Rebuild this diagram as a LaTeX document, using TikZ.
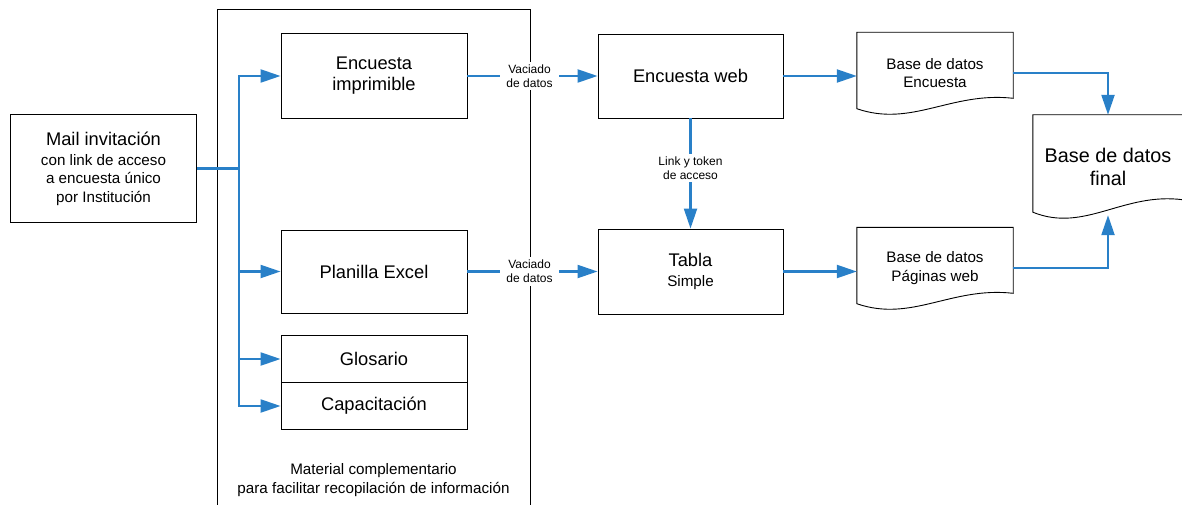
\documentclass[tikz,border=0pt]{standalone}
\usepackage{fontspec}
\setmainfont{Liberation Sans}
\usepackage{tikz}
\usetikzlibrary{arrows.meta}
\usetikzlibrary{calc}
\definecolor{flowblue}{RGB}{41,128,200}
\newcommand\fbig{\fontsize{18.3}{21}\selectfont}
\newcommand\fmed{\fontsize{15.2}{18.5}\selectfont}
\newcommand\fhuge{\fontsize{19.8}{23}\selectfont}
\tikzset{box/.style={draw,line width=0.9pt,align=center,inner sep=0pt},
  flow/.style={draw=flowblue,line width=2.2pt},
  arrow/.style={flow,-{Triangle[length=20pt,width=13pt]}},
  lbl/.style={fill=white,align=center,inner xsep=6pt,inner ysep=3pt,font=\fontsize{12}{13.7}\selectfont}}
\begin{document}
\begin{tikzpicture}[x=1pt,y=-1pt]
\useasboundingbox (0,0) rectangle (1182,505);
% material box
\node (material) at (373.5,264) [box,minimum width=313pt,minimum height=510pt] {};
\node (matlabel) at (373.5,480) [align=center,font=\fmed] {Material complementario\\para facilitar recopilación de información};

\node (mail) at (103.5,168.5) [box,minimum width=186pt,minimum height=108pt,font=\fmed] {{\fbig Mail invitación}\\[1.5pt]con link de acceso\\a encuesta único\\por Institución};
\node (imp) at (374,76) [box,minimum width=186pt,minimum height=85pt,font=\fbig] {Encuesta\\imprimible};
\node (excel) at (374,271.5) [box,minimum width=186pt,minimum height=83pt,font=\fbig] {Planilla Excel};
\node (glos) at (374,359) [box,minimum width=186pt,minimum height=47pt,font=\fbig] {Glosario};
\node (capa) at (374,406) [box,minimum width=186pt,minimum height=47pt,font=\fbig] {Capacitación};

\node (web) at (690.5,76) [box,minimum width=185pt,minimum height=84pt,font=\fbig] {Encuesta web};
\node (tabla) at (690.5,271.5) [box,minimum width=185pt,minimum height=85pt,font=\fmed] {{\fbig Tabla}\\[1pt]Simple};

% documents
\node (docenc) at (935,73) [align=center,minimum width=156pt,minimum height=81pt,font=\fmed] {Base de datos\\Encuesta};
\node (docpag) at (935,268) [align=center,minimum width=156pt,minimum height=81pt,font=\fmed] {Base de datos\\Páginas web};
\node (final) at (1108,166.5) [align=center,minimum width=150pt,minimum height=103pt,font=\fhuge] {Base de datos\\final};
\draw[line width=0.9pt] (docenc.north west) -- (docenc.north east) -- ++(0,66) .. controls +(-62,-7) and +(55,19) .. ($(docenc.south west)+(0,-5)$) -- cycle;
\draw[line width=0.9pt] (docpag.north west) -- (docpag.north east) -- ++(0,66) .. controls +(-62,-7) and +(55,19) .. ($(docpag.south west)+(0,-5)$) -- cycle;
\draw[line width=0.9pt] (final.north west) -- (final.north east) -- ++(0,85) .. controls +(-60,-8) and +(52,21) .. ($(final.south west)+(0,-6)$) -- cycle;

% connectors
\coordinate (bus) at (239,168.5);
\coordinate (fwave) at ($(final.south)+(0,-3)$);
\draw[flow] (mail.east) -- (bus);
\draw[arrow] (bus) |- (imp.west);
\draw[arrow] (bus) |- (excel.west);
\draw[arrow] (bus) |- (glos.west);
\draw[arrow] (bus) |- (capa.west);
\draw[arrow] (imp.east) -- (web.west) node[lbl,midway,xshift=-3pt] {Vaciado\\de datos};
\draw[arrow] (excel.east) -- (tabla.west) node[lbl,midway,xshift=-3pt] {Vaciado\\de datos};
\draw[arrow] (web.south) -- (tabla.north) node[lbl,pos=0.45] {Link y token\\de acceso};
\draw[arrow] (web.east) -- (web.east -| docenc.west);
\draw[arrow] (tabla.east) -- (tabla.east -| docpag.west);
\draw[arrow] (docenc.east) -| (final.north);
\draw[arrow] (docpag.east) -| (fwave);
\end{tikzpicture}
\end{document}
